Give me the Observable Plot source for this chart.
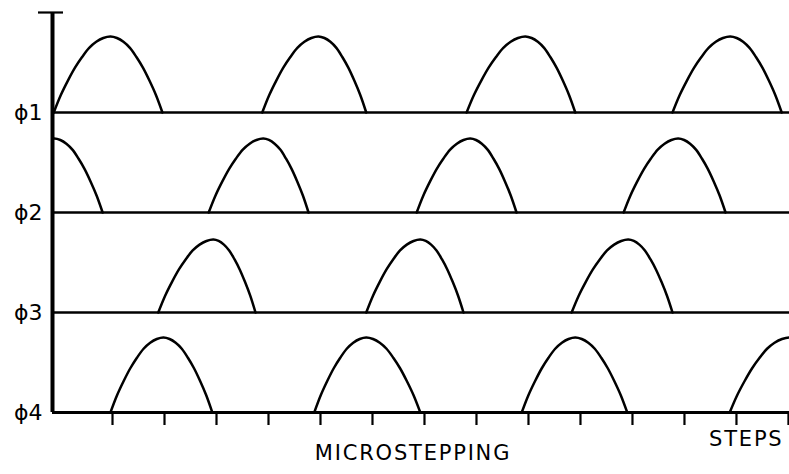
<!DOCTYPE html>
<html>
<head>
<meta charset="utf-8">
<script src="https://cdn.jsdelivr.net/npm/d3@7"></script>
<script src="https://cdn.jsdelivr.net/npm/@observablehq/plot@0.6"></script>
<style>
  html, body { margin: 0; padding: 0; background: #fff; }
  g[aria-label="text"] text { letter-spacing: 1.8px; }
</style>
</head>
<body>
<div id="chart"></div>
<script>
// x in microstep units (one tick = one microstep)
const xDomain = [-1.154, 13.02];
const xTicks = [0, 1, 2, 3, 4, 5, 6, 7, 8, 9, 10, 11, 12, 13];

// phase labels by baseline level (0 = bottom)
const phaseLabels = ["ϕ4", "ϕ3", "ϕ2", "ϕ1"];
const phaseNames = ["ϕ1", "ϕ2", "ϕ3", "ϕ4"];
const phaseBase = [3, 2, 1, 0];
const phaseAmp = [0.76, 0.74, 0.73, 0.75];

// humps: [start, peak, end] in microstep units
const phi1Humps = [[-1.13, -0.04, 0.96], [2.88, 3.96, 4.88], [6.81, 7.94, 8.9], [10.77, 11.88, 12.87]];
const phi2Humps = [[-2.2, -1.12, -0.19], [1.85, 2.9, 3.77], [5.85, 6.88, 7.77], [9.83, 10.88, 11.79]];
const phi3Humps = [[0.88, 1.94, 2.75], [4.88, 5.92, 6.75], [8.83, 9.92, 10.77]];
const phi4Humps = [[-0.04, 0.98, 1.92], [3.88, 4.88, 5.92], [7.87, 8.9, 9.9], [11.87, 13.02, 14.1]];

// hump profile: fraction along one side -> relative height
const profileF = [0, 0.125, 0.25, 0.375, 0.5, 0.625, 0.75, 0.875, 1];
const profileH = [0, 0.23, 0.42, 0.59, 0.73, 0.85, 0.93, 0.98, 1];

const xLabel = "MICROSTEPPING";
const xEndLabel = "STEPS";

const allHumps = [phi1Humps, phi2Humps, phi3Humps, phi4Humps];
const rows = [];
allHumps.forEach((humps, p) => {
  humps.forEach(([s, pk, e], i) => {
    const id = phaseNames[p] + "-" + i;
    profileF.forEach((f, k) => {
      rows.push({id, x: s + (pk - s) * f, y: phaseBase[p] + phaseAmp[p] * profileH[k]});
    });
    for (let k = profileF.length - 2; k >= 0; k--) {
      const f = 1 - profileF[k];
      rows.push({id, x: pk + (e - pk) * f, y: phaseBase[p] + phaseAmp[p] * profileH[k]});
    }
  });
});

const chart = Plot.plot({
  width: 789,
  height: 474,
  marginLeft: 52,
  marginRight: 0,
  marginTop: 12,
  marginBottom: 62,
  style: {fontFamily: "DejaVu Sans", background: "#fff", color: "#000"},
  x: {domain: xDomain},
  y: {domain: [0, 4]},
  marks: [
    Plot.ruleY(phaseBase.filter(d => d > 0), {stroke: "#000", strokeWidth: 2.4}),
    Plot.ruleY([0], {stroke: "#000", strokeWidth: 3.2}),
    Plot.ruleX([xDomain[0]], {stroke: "#000", strokeWidth: 4}),
    Plot.line(rows, {x: "x", y: "y", z: "id", curve: "catmull-rom", stroke: "#000", strokeWidth: 2.5, clip: true}),
    Plot.axisX({ticks: xTicks, tickSize: 13, tickFormat: () => "", strokeWidth: 2.2, label: null}),
    Plot.axisY({ticks: [0, 1, 2, 3], tickFormat: d => phaseLabels[d], tickSize: 0, tickPadding: 10, fontSize: 22, label: null}),
    Plot.axisY({ticks: [4], tickSize: 25, dx: 11, tickFormat: () => "", strokeWidth: 2.2, label: null}),
    Plot.text([xLabel], {frameAnchor: "bottom", dx: -8, dy: 47, fontSize: 21, fill: "#000"}),
    Plot.text([xEndLabel], {frameAnchor: "bottom-right", textAnchor: "end", dx: -6, dy: 33, fontSize: 21, fill: "#000"})
  ]
});
document.getElementById("chart").appendChild(chart);
</script>
</body>
</html>
